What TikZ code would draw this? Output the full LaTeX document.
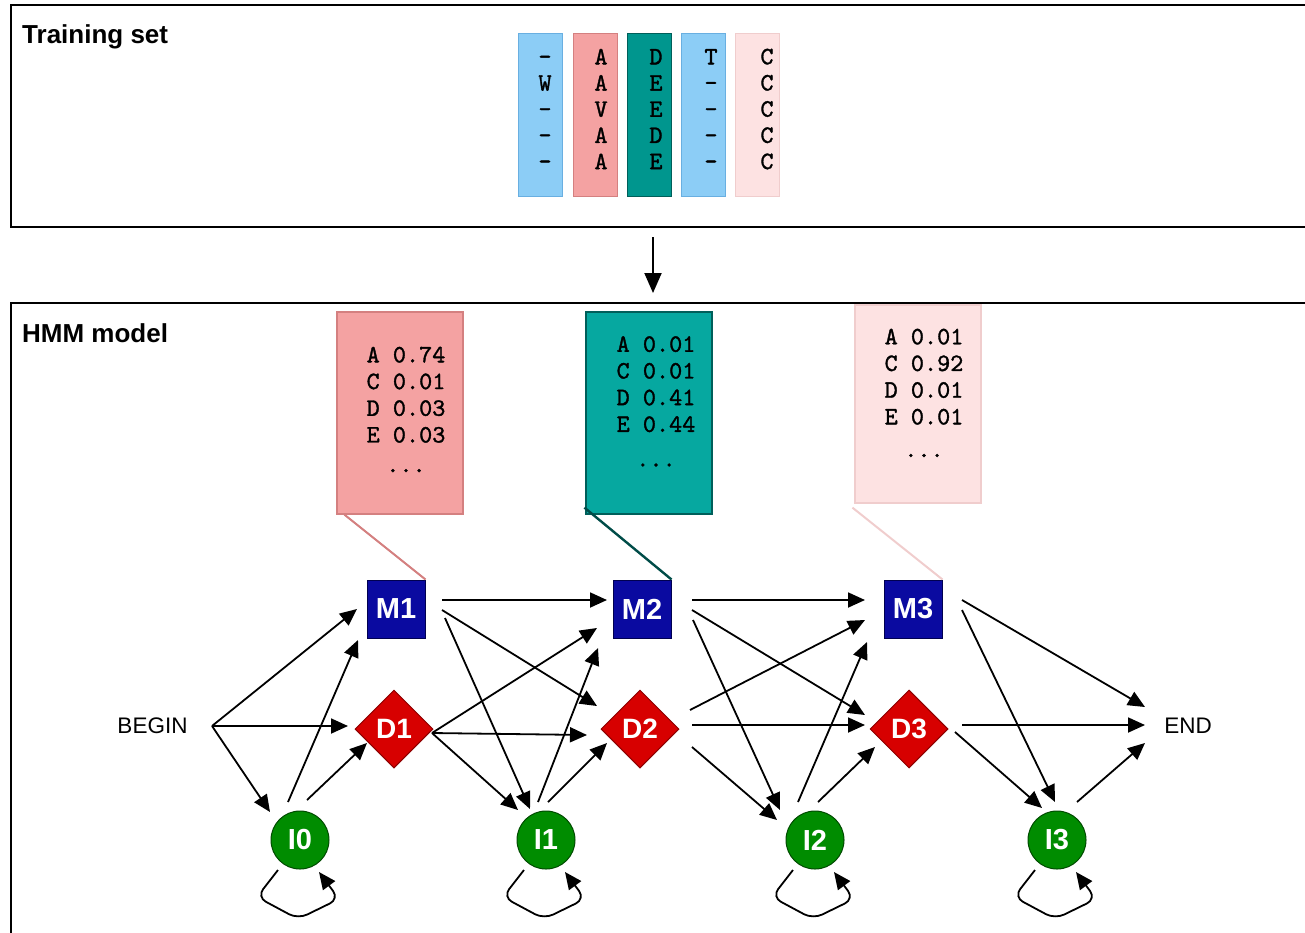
\documentclass[tikz,border=0pt]{standalone}
\usepackage{fontspec}
\setmainfont{Liberation Sans}
\newfontfamily\mymono[FakeBold=1.3]{lmmono10-regular.otf}
\usetikzlibrary{arrows.meta,shapes.geometric,calc}
\definecolor{cblue}{RGB}{140,205,246}
\definecolor{cblueD}{RGB}{105,175,225}
\definecolor{csalmon}{RGB}{244,162,162}
\definecolor{csalmonD}{RGB}{212,128,128}
\definecolor{cteal}{RGB}{0,150,142}
\definecolor{ctealD}{RGB}{0,95,90}
\definecolor{ctealB}{RGB}{6,168,160}
\definecolor{cpink}{RGB}{253,226,226}
\definecolor{cpinkD}{RGB}{240,205,205}
\definecolor{mblue}{RGB}{10,10,160}
\definecolor{mblueD}{RGB}{0,0,80}
\definecolor{dred}{RGB}{215,0,0}
\definecolor{dredD}{RGB}{140,0,0}
\definecolor{igreen}{RGB}{0,140,0}
\definecolor{igreenD}{RGB}{0,75,0}
\newcommand{\conn}[4]{\draw[arr] ($(#1)+(#2)$) -- ($(#3)+(#4)$);}
\begin{document}
\begin{tikzpicture}[x=1pt,y=-1pt,
  frame/.style={draw=black, line width=2pt, rectangle, inner sep=0, anchor=north west},
  title/.style={font=\bfseries\fontsize{26}{28}\selectfont, anchor=base west, inner sep=0},
  col/.style={rectangle, minimum width=44pt, minimum height=163pt, inner sep=0, line width=1pt},
  coltext/.style={font=\mymono\fontsize{25}{26.2}\selectfont, align=center, inner sep=0},
  ebox/.style={rectangle, minimum width=126pt, inner sep=0, line width=1.2pt},
  etext/.style={font=\mymono\fontsize{25}{26.7}\selectfont, align=center, inner sep=0, anchor=north},
  mstate/.style={rectangle, fill=mblue, draw=mblueD, line width=1pt, minimum size=58pt, inner sep=0, text=white, font=\bfseries\fontsize{29}{30}\selectfont},
  dstate/.style={diamond, aspect=1, fill=dred, draw=dredD, line width=1pt, minimum size=78pt, inner sep=0, text=white, font=\bfseries\fontsize{28}{30}\selectfont},
  istate/.style={circle, fill=igreen, draw=igreenD, line width=1pt, minimum size=58pt, inner sep=0, text=white, font=\bfseries\fontsize{29}{30}\selectfont},
  plain/.style={inner sep=0, font=\fontsize{22.5}{24}\selectfont},
  arr/.style={line width=1.8pt, -{Triangle[length=17pt,width=15pt]}},
  bigarr/.style={line width=2pt, -{Triangle[length=20pt,width=17pt]}}
]
\useasboundingbox (0,0) rectangle (1305,932);
\clip (0,0) rectangle (1305,932);

% frames
\node[frame, minimum width=1330pt, minimum height=222pt] (TS) at (10,4) {};
\node[frame, minimum width=1330pt, minimum height=660pt] (HM) at (10,302) {};
\node[title] (TStitle) at (22,43) {Training set};
\node[title] (HMtitle) at (22,342) {HMM model};
\draw[bigarr] ($(TS.south west)+(643,9)$) -- ($(HM.north west)+(643,-9)$);

% training columns
\node[col, fill=cblue, draw=cblueD] (T1) at (540.5,114.5) {};
\node[col, fill=csalmon, draw=csalmonD] (T2) at (595,114.5) {};
\node[col, fill=cteal, draw=ctealD] (T3) at (649,114.5) {};
\node[col, fill=cblue, draw=cblueD] (T4) at (703,114.5) {};
\node[col, fill=cpink, draw=cpinkD] (T5) at (757,114.5) {};
\node[coltext] (T1t) at (545,109) {\vphantom{A}-\\W\\-\\-\\-};
\node[coltext] (T2t) at (601,109) {\vphantom{A}A\\A\\V\\A\\A};
\node[coltext] (T3t) at (656,109) {\vphantom{A}D\\E\\E\\D\\E};
\node[coltext] (T4t) at (711,109) {\vphantom{A}T\\-\\-\\-\\-};
\node[coltext] (T5t) at (767,109) {\vphantom{A}C\\C\\C\\C\\C};

% emission boxes
\node[ebox, minimum height=202pt, fill=csalmon, draw=csalmonD] (E1) at (400,413) {};
\node[ebox, minimum height=202pt, fill=ctealB, draw=ctealD] (E2) at (649,413) {};
\node[ebox, minimum height=198pt, fill=cpink, draw=cpinkD] (E3) at (918,404) {};
\node[etext] (E1t) at (406,346.5) {A 0.74\\C 0.01\\D 0.03\\E 0.03\\[3pt]...};
\node[etext] (E2t) at (656,336) {A 0.01\\C 0.01\\D 0.41\\E 0.44\\[8pt]...};
\node[etext] (E3t) at (924,328.5) {A 0.01\\C 0.92\\D 0.01\\E 0.01\\[6pt]...};

% states
\node[mstate] (M1) at (396,609) {M1};
\node[mstate] (M2) at (642,609) {M2};
\node[mstate] (M3) at (913,609) {M3};
\node[dstate] (D1) at (394,729) {D1};
\node[dstate] (D2) at (640,729) {D2};
\node[dstate] (D3) at (909,729) {D3};
\node[istate] (I0) at (300,840) {I0};
\node[istate] (I1) at (546,840) {I1};
\node[istate] (I2) at (815,840) {I2};
\node[istate] (I3) at (1057,840) {I3};
\node[plain] (BEGIN) at (152.5,726) {BEGIN};
\node[plain] (END) at (1188,726) {END};

% emission connectors
\draw[line width=2pt, draw=csalmonD] ($(E1.south west)+(8,0)$) -- (M1.north east);
\draw[line width=2.4pt, draw=ctealD!80!black] ($(E2.south west)+(-1,-7)$) -- (M2.north east);
\draw[line width=2pt, draw=cpinkD] ($(E3.south west)+(-2,4)$) -- (M3.north east);

% transitions
\conn{BEGIN}{59.5,0}{M1}{-39,0}
\conn{BEGIN}{59.5,0}{D1}{-46,-3}
\conn{BEGIN}{59.5,0}{I0}{-30,-28}
\conn{I0}{-12,-38}{M1}{-38,31}
\conn{I0}{7,-40}{D1}{-27,14}
\conn{M1}{46,-9}{M2}{-35,-9}
\conn{M1}{46,1}{D2}{-43,-23}
\conn{M1}{49,9}{I1}{-16,-31}
\conn{D1}{38,4}{M2}{-45,19}
\conn{D1}{38,4}{D2}{-53,6}
\conn{D1}{38,4}{I1}{-28,-30}
\conn{I1}{-8,-38}{M2}{-44,39}
\conn{I1}{2,-38}{D2}{-33,14}
\conn{M2}{50,-9}{M3}{-48,-9}
\conn{M2}{50,1}{D3}{-44,-14}
\conn{M2}{51,11}{I2}{-35,-30}
\conn{D2}{50,-19}{M3}{-48,11}
\conn{D2}{52,-4}{D3}{-44,-4}
\conn{D2}{52,18}{I2}{-38,-20}
\conn{I2}{-17,-38}{M3}{-46,33}
\conn{I2}{3,-38}{D3}{-34,18}
\conn{M3}{49,-9}{END}{-43,-19}
\conn{M3}{49,1}{I3}{-2,-38}
\conn{D3}{53,-4}{END}{-43,-1}
\conn{D3}{46,3}{I3}{-15,-32}
\conn{I3}{20,-38}{END}{-43,17}

% self loops
\foreach \n in {I0,I1,I2,I3}
  \draw[arr, rounded corners=10pt] ($(\n)+(-22,30)$) -- ($(\n)+(-43,57)$) -- ($(\n)+(-2,79)$) -- ($(\n)+(39,59)$) -- ($(\n)+(19,32)$);
\end{tikzpicture}
\end{document}
